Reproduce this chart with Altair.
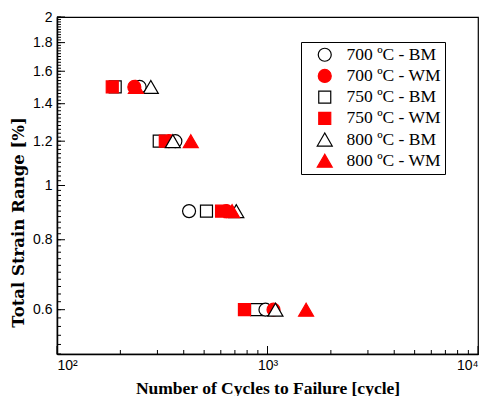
import altair as alt
import pandas as pd

# ---- data ----
series = ["700 ºC - BM", "700 ºC - WM", "750 ºC - BM", "750 ºC - WM", "800 ºC - BM", "800 ºC - WM"]
strain = [1.5, 1.2, 0.9, 0.6]
cyc_700_bm = [247, 365, 424, 978]
cyc_700_wm = [233, 340, 638, 1068]
cyc_750_bm = [189, 306, 513, 887]
cyc_750_wm = [183, 327, 605, 777]
cyc_800_bm = [279, 355, 711, 1091]
cyc_800_wm = [237, 432, 679, 1525]

# drawing order (later ones on top)
draw_order = [
    ("750 ºC - BM", cyc_750_bm),
    ("750 ºC - WM", cyc_750_wm),
    ("700 ºC - BM", cyc_700_bm),
    ("700 ºC - WM", cyc_700_wm),
    ("800 ºC - BM", cyc_800_bm),
    ("800 ºC - WM", cyc_800_wm),
]

shapes = ["circle", "circle", "square", "square", "triangle-up", "triangle-up"]
fills = ["white", "#ff0000", "white", "#ff0000", "white", "#ff0000"]
strokes = ["black", "#ff0000", "black", "#ff0000", "black", "#ff0000"]
sizes = [169, 169, 144, 144, 225, 225]

x_major = [100, 1000, 10000]
x_minor = [200, 300, 400, 500, 600, 700, 800, 900, 2000, 3000, 4000, 5000, 6000, 7000, 8000, 9000]
y_major = [0.6, 0.8, 1.0, 1.2, 1.4, 1.6, 1.8, 2.0]
y_minor = [round(0.5 + 0.02 * i, 2) for i in range(76)]

rows = []
for name, vals in draw_order:
    for s, n in zip(strain, vals):
        rows.append({"series": name, "strain": s, "N": n})
df = pd.DataFrame(rows)

W, H = 421, 337
x_scale = alt.Scale(type="log", domain=[100, 10000], nice=False)
y_scale = alt.Scale(type="log", domain=[0.5, 2], nice=False)

leg = alt.Legend(title=None, orient="none", legendX=244, legendY=25)

x_axis = alt.Axis(
    values=x_major,
    labelExpr="datum.value == 100 ? '10²' : (datum.value == 1000 ? '10³' : '10⁴')",
    labelAlign=alt.ExprRef("datum.value == 100 ? 'left' : (datum.value == 10000 ? 'right' : 'center')"),
    ticks=False, tickSize=0, grid=False,
    domainColor="black", domainWidth=1.5,
    labelFont="Liberation Sans", labelFontSize=14, labelColor="black",
    labelPadding=4, labelFlush=False, labelOverlap=False,
    title="Number of Cycles to Failure [cycle]",
    titleFont="Liberation Serif", titleFontWeight="bold", titleFontSize=17.5,
    titleColor="black", titleX=W / 2, titleY=39, titleBaseline="alphabetic", titleAlign="center",
)
y_axis = alt.Axis(
    values=y_major, format="~g",
    ticks=False, tickSize=0, grid=False,
    domainColor="black", domainWidth=1.5,
    labelFont="Liberation Sans", labelFontSize=14, labelColor="black",
    labelPadding=5, labelFlush=False, labelOverlap=False,
    title="Total Strain Range [%]",
    titleFont="DejaVu Serif", titleFontWeight="bold", titleFontSize=16.5,
    titleColor="black", titleX=-38.5, titleY=205, titleBaseline="middle", titleAlign="center",
    titleAngle=270,
)

points = alt.Chart(df).mark_point(filled=True, strokeWidth=1.2, opacity=1, fillOpacity=1).encode(
    x=alt.X("N:Q", scale=x_scale, axis=x_axis),
    y=alt.Y("strain:Q", scale=y_scale, axis=y_axis),
    shape=alt.Shape("series:N", scale=alt.Scale(domain=series, range=shapes), legend=leg),
    fill=alt.Fill("series:N", scale=alt.Scale(domain=series, range=fills), legend=leg),
    stroke=alt.Stroke("series:N", scale=alt.Scale(domain=series, range=strokes), legend=leg),
    size=alt.Size("series:N", scale=alt.Scale(type="ordinal", domain=series, range=sizes), legend=leg),
)

ymin = alt.Chart(pd.DataFrame({"strain": y_minor})).mark_rule(color="black", strokeWidth=1).encode(
    y=alt.Y("strain:Q", scale=y_scale, axis=y_axis), x=alt.value(0), x2=alt.value(4))
ymaj = alt.Chart(pd.DataFrame({"strain": y_major})).mark_rule(color="black", strokeWidth=1).encode(
    y=alt.Y("strain:Q", scale=y_scale, axis=y_axis), x=alt.value(0), x2=alt.value(8))
xmin = alt.Chart(pd.DataFrame({"N": x_minor})).mark_rule(color="black", strokeWidth=1).encode(
    x=alt.X("N:Q", scale=x_scale, axis=x_axis), y=alt.value(H), y2=alt.value(H - 4))
xmaj = alt.Chart(pd.DataFrame({"N": x_major})).mark_rule(color="black", strokeWidth=1).encode(
    x=alt.X("N:Q", scale=x_scale, axis=x_axis), y=alt.value(H), y2=alt.value(H - 8))

chart = alt.layer(points, ymin, ymaj, xmin, xmaj).properties(
    width=W, height=H,
    padding={"left": 49, "top": 9, "right": 1, "bottom": 42},
    autosize=alt.AutoSizeParams(type="none"),
    background="white",
).configure_view(
    stroke="black", strokeWidth=1.2
).configure_legend(
    padding=4, symbolOffset=11, labelOffset=13, rowPadding=2.2,
    labelFont="Liberation Serif", labelFontSize=17.5, labelColor="black",
    symbolStrokeWidth=1.2, fillColor="white", strokeColor="black", cornerRadius=0,
    labelLimit=300,
)

chart.save("out.html", embed_options={"renderer": "svg", "actions": False})
